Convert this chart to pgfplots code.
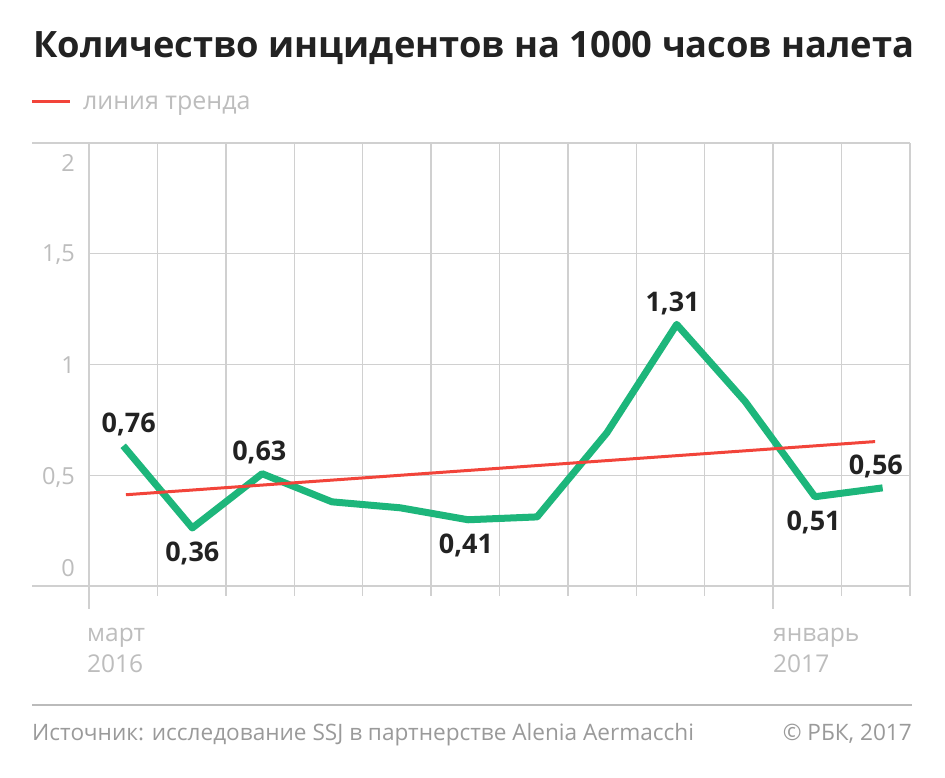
\documentclass[border=0pt]{standalone}
\usepackage{fontspec}
\setmainfont{Open Sans}
\usepackage{pgfplots}
\pgfplotsset{compat=1.18}
\definecolor{grn}{HTML}{1DB67B}
\definecolor{trend}{HTML}{F2443A}
\definecolor{gridc}{HTML}{D0D0D0}
\definecolor{lbl}{HTML}{BDBDBD}
\definecolor{src}{HTML}{9A9A9A}
\definecolor{sep}{HTML}{BBBBBB}
\definecolor{ttl}{HTML}{222222}
\begin{document}
\begin{tikzpicture}
\path[use as bounding box, fill=white] (0,0) rectangle (945bp,778bp);
% title
\node[anchor=base west, inner sep=0, text=ttl, font=\fontsize{36.3bp}{42bp}\selectfont\bfseries] at (33bp,720bp) {Количество инцидентов на 1000 часов налета};
% legend
\draw[trend, line width=3bp] (32bp,676bp) -- (70bp,676bp);
\node[anchor=base west, inner sep=0, text=lbl, font=\fontsize{25bp}{30bp}\selectfont] at (83bp,668bp) {линия тренда};
% extended frame lines
\draw[gridc, line width=1.4bp] (32bp,192bp) -- (89bp,192bp);
\draw[gridc, line width=1.4bp] (32bp,635bp) -- (89bp,635bp);
\begin{axis}[
  at={(89bp,192bp)}, anchor=south west,
  scale only axis, width=821bp, height=443bp,
  xmin=0, xmax=12, ymin=0, ymax=2,
  xtick={0,...,12}, ytick={0,0.5,...,2},
  xticklabels={}, yticklabels={},
  grid=major, grid style={gridc, line width=1.4bp},
  axis line style={draw=none},
  xtick pos=bottom, ytick pos=left,
  tick align=outside,
  major tick length=10bp,
  tick style={gridc, line width=1.4bp},
  ytick style={draw=none},
  extra x ticks={0,10}, extra x tick labels={},
  extra x tick style={grid=none, major tick length=23bp},
  clip=false,
]
\addplot[grn, line width=7bp, line join=round] coordinates {
 (0.50,0.633) (1.51,0.262) (2.53,0.507) (3.55,0.380) (4.55,0.353) (5.54,0.299)
 (6.55,0.312) (7.57,0.692) (8.59,1.181) (9.59,0.833) (10.61,0.403) (11.60,0.443)};
\addplot[trend, line width=3bp] coordinates {(0.54,0.412) (11.49,0.652)};
% labels above
\addplot[draw=none, mark=none, nodes near coords, point meta=explicit symbolic,
  every node near coord/.append style={anchor=base, yshift=13bp, text=ttl, font=\fontsize{27bp}{30bp}\selectfont\bfseries}]
  coordinates {(0.58,0.633)[0,76] (2.49,0.507)[0,63] (8.53,1.181)[1,31] (11.50,0.443)[0,56]};
% labels below
\addplot[draw=none, mark=none, nodes near coords, point meta=explicit symbolic,
  every node near coord/.append style={anchor=base, yshift=-34bp, text=ttl, font=\fontsize{27bp}{30bp}\selectfont\bfseries}]
  coordinates {(1.51,0.262)[0,36] (5.51,0.299)[0,41] (10.59,0.403)[0,51]};
\end{axis}
% y tick labels
\begin{scope}[every node/.style={anchor=base east, inner sep=0, text=lbl, font=\fontsize{23.5bp}{26bp}\selectfont}]
\node at (75bp,606.5bp) {2};
\node at (75bp,516.5bp) {1,5};
\node at (75bp,404.5bp) {1};
\node at (75bp,293.5bp) {0,5};
\node at (75bp,201.5bp) {0};
\end{scope}
% x labels
\begin{scope}[every node/.style={anchor=base west, inner sep=0, text=lbl, font=\fontsize{24.5bp}{30bp}\selectfont}]
\node at (87bp,136bp) {март};
\node at (87bp,105bp) {2016};
\node at (773bp,136bp) {январь};
\node at (773bp,105bp) {2017};
\end{scope}
% source
\draw[sep, line width=1.5bp] (32bp,73bp) -- (912bp,73bp);
\node[anchor=base west, inner sep=0, text=src, font=\fontsize{22.6bp}{26bp}\selectfont] at (32bp,38bp) {Источник: исследование SSJ в партнерстве Alenia Aermacchi};
\node[anchor=base east, inner sep=0, text=src, font=\fontsize{22.6bp}{26bp}\selectfont] at (912bp,38bp) {© РБК, 2017};
\end{tikzpicture}
\end{document}
